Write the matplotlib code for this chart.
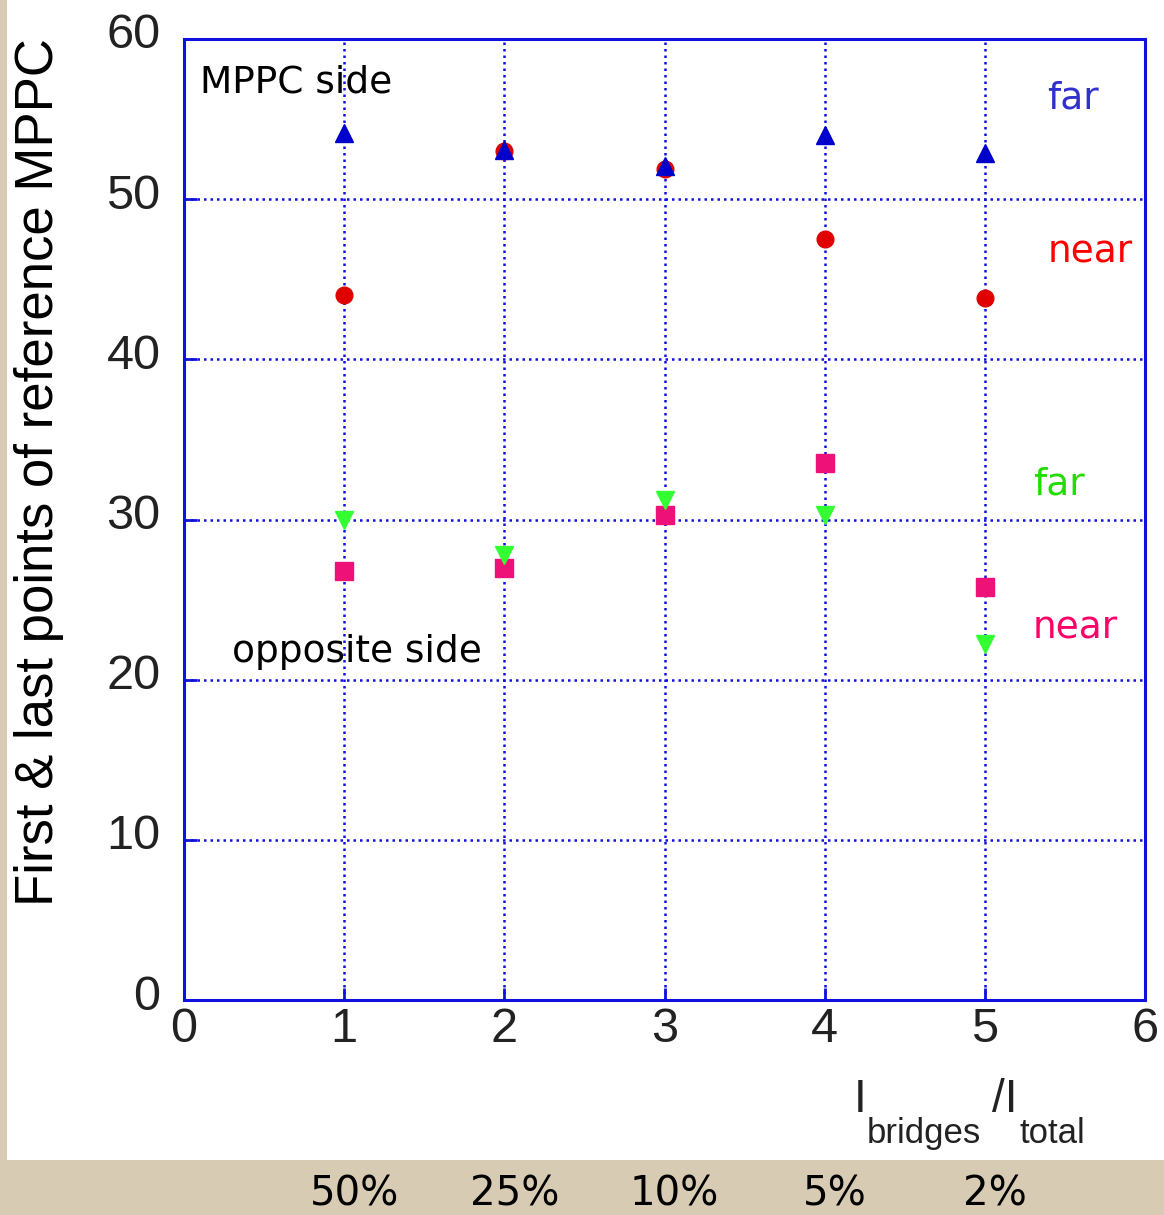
import matplotlib
matplotlib.use("Agg")
import matplotlib.pyplot as plt
from matplotlib.patches import Rectangle
from matplotlib.transforms import ScaledTranslation

# Measured response positions per bridge configuration
config = [1, 2, 3, 4, 5]
mppc_far = [54.1, 53.1, 52.1, 54.0, 52.9]
mppc_near = [44.0, 53.0, 51.9, 47.5, 43.8]
opp_far = [30.0, 27.8, 31.2, 30.3, 22.2]
opp_near = [26.8, 27.0, 30.3, 33.5, 25.8]
bridge_fraction = ["50%", "25%", "10%", "5%", "2%"]

W, H = 1164, 1215
fig = plt.figure(figsize=(W / 100, H / 100), dpi=100, facecolor="white")

# parchment border along the bottom and left edge
beige = "#d8cbb4"
fig.patches.append(Rectangle((0, 0), 1, 55 / H, transform=fig.transFigure,
                             facecolor=beige, edgecolor="none", zorder=-5))
fig.patches.append(Rectangle((0, 0), 7 / W, 1, transform=fig.transFigure,
                             facecolor=beige, edgecolor="none", zorder=-5))

ax = fig.add_axes([184 / W, 215 / H, 961 / W, 961 / H])
ax.set_xlim(0, 6)
ax.set_ylim(0, 60)
ax.set_xticks(range(0, 7))
ax.set_yticks(range(0, 61, 10))

blue = "#1010e0"
for s in ax.spines.values():
    s.set_color(blue)
    s.set_linewidth(2.2)
ax.tick_params(direction="in", length=9, width=2, color=blue,
               labelsize=35, labelcolor="#222222")
ax.tick_params(axis="x", pad=5)
ax.tick_params(axis="y", pad=17)
for lbl in ax.get_xticklabels() + ax.get_yticklabels():
    lbl.set_family("Liberation Sans")
# y tick labels sit slightly above their grid lines
lift = ScaledTranslation(0, 8 / 100, fig.dpi_scale_trans)
for lbl in ax.get_yticklabels():
    lbl.set_transform(lbl.get_transform() + lift)

ax.grid(True, color=blue, linestyle=(0, (1, 1.6)), linewidth=1.8)
ax.set_axisbelow(True)

ax.plot(config, mppc_near, linestyle="none", marker="o", ms=12,
        color="#e00000", mec="#e00000", zorder=3)
ax.plot(config, mppc_far, linestyle="none", marker="^", ms=13,
        color="#0000cc", mec="#0000cc", zorder=4)
ax.plot(config, opp_near, linestyle="none", marker="s", ms=13.5,
        color="#ee1177", mec="#ee1177", zorder=3)
ax.plot(config, opp_far, linestyle="none", marker="v", ms=13,
        color="#33ff33", mec="#33ff33", zorder=4)

ax.set_ylabel("First & last points of reference MPPC", fontsize=38,
              family="Liberation Sans", color="black")
ax.yaxis.set_label_coords(-0.125, 0.549)

tfont = dict(family="DejaVu Sans", fontsize=27)
ax.text(0.1, 57.3, "MPPC side", color="black", va="center", ha="left", **tfont)
ax.text(0.3, 21.7, "opposite side", color="black", va="center", ha="left", **tfont)
ax.text(5.39, 56.3, "far", color="#3030cc", va="center", ha="left", **tfont)
ax.text(5.39, 46.7, "near", color="#ff0000", va="center", ha="left", **tfont)
ax.text(5.3, 32.2, "far", color="#22dd00", va="center", ha="left", **tfont)
ax.text(5.3, 23.2, "near", color="#ff0066", va="center", ha="left", **tfont)

# axis title built as I_bridges / I_total
lf = dict(family="Liberation Sans", color="#222222")
fig.text(854 / W, 1 - 1112 / H, "I", fontsize=33, ha="left", va="baseline", **lf)
fig.text(867 / W, 1 - 1143 / H, "bridges", fontsize=25, ha="left", va="baseline", **lf)
fig.text(992 / W, 1 - 1112 / H, "/I", fontsize=33, ha="left", va="baseline", **lf)
fig.text(1019 / W, 1 - 1143 / H, "total", fontsize=25, ha="left", va="baseline", **lf)

# bridge fraction under each configuration
for xv, lab in zip(config, bridge_fraction):
    xd = ax.transData.transform((xv, 0))[0] / W
    fig.text(xd + 10 / W, 1 - 1206 / H, lab, fontsize=29, ha="center",
             va="baseline", family="DejaVu Sans Condensed", color="black")

fig.savefig("out.png", dpi=100, facecolor=fig.get_facecolor())
